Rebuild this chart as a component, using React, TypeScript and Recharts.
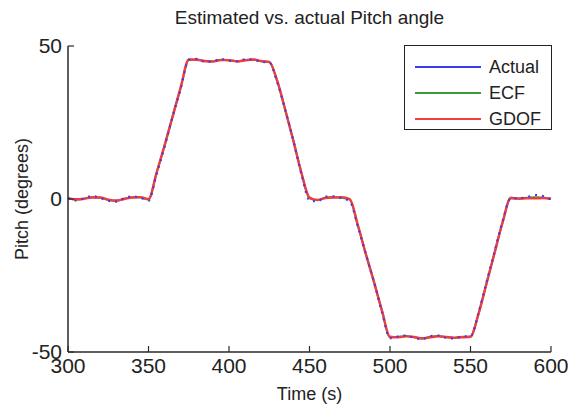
import React from 'react';
import { LineChart, Line, XAxis, YAxis } from 'recharts';

const time = [300, 305, 310, 315, 320, 325, 330, 335, 340, 345, 350, 355, 360, 365, 370, 375, 380, 385, 390, 395, 400, 405, 410, 415, 420, 425, 430, 435, 440, 445, 450, 455, 460, 465, 470, 475, 480, 485, 490, 495, 500, 505, 510, 515, 520, 525, 530, 535, 540, 545, 550, 555, 560, 565, 570, 575, 580, 585, 590, 595, 600];
const actual = [0.3, -0.5, 0.2, 1.0, 0.3, -0.6, -0.9, 0.3, 0.9, 0.4, -0.6, 8, 17, 27, 36, 45.5, 45.8, 44.8, 45.0, 45.8, 45.2, 44.9, 45.7, 45.6, 44.8, 44.6, 38, 29, 19, 8, -0.5, -0.8, 0.8, 0.9, 0.2, -0.8, -9, -18, -27, -37, -45.5, -44.9, -44.6, -45.4, -45.8, -44.8, -44.6, -45.4, -45.6, -44.8, -44.9, -37, -27, -17, -7, 0.2, 0.3, 0.6, 1.3, 1.0, -0.2];
const ecf = [0.2, -0.2, 0.1, 0.6, 0.4, -0.3, -0.6, 0.1, 0.6, 0.5, -0.2, 8.5, 17.5, 27, 36.5, 45.4, 45.6, 45.0, 45.0, 45.5, 45.3, 45.0, 45.4, 45.5, 45.0, 44.8, 38.5, 29, 19, 8.5, 0.2, -0.4, 0.5, 0.6, 0.4, -0.2, -8.5, -18, -27, -36.5, -45.2, -45.0, -44.8, -45.2, -45.5, -45.0, -44.8, -45.2, -45.4, -45.0, -45.0, -37.5, -27.5, -17.5, -7.5, 0.2, 0.2, 0.4, 0.6, 0.5, 0.0];
const gdof = [0.3, -0.1, 0.1, 0.5, 0.5, -0.2, -0.5, 0.0, 0.5, 0.6, 0.0, 8.5, 17.5, 27, 36.5, 45.6, 45.5, 45.1, 44.9, 45.4, 45.4, 45.0, 45.3, 45.6, 45.1, 44.8, 38.5, 29, 19, 8.5, 0.5, -0.3, 0.3, 0.5, 0.6, 0.0, -8.5, -18, -27, -36.5, -45.0, -45.2, -44.9, -45.1, -45.6, -45.2, -44.9, -45.1, -45.3, -45.2, -45.0, -37.5, -27.5, -17.5, -7.5, 0.4, 0.1, 0.2, 0.2, 0.3, 0.1];

const xTicks = [300, 350, 400, 450, 500, 550, 600];
const yTicks = [-50, 0, 50];

const seriesInfo = [
  { key: 'actual', name: 'Actual', color: '#3b3bf5' },
  { key: 'ecf', name: 'ECF', color: '#3d9a3d' },
  { key: 'gdof', name: 'GDOF', color: '#f53b3b' },
];

const data = time.map((t, i) => ({ t, actual: actual[i], ecf: ecf[i], gdof: gdof[i] }));

const FONT = '"Liberation Sans", Arial, sans-serif';
const AXIS = '#2a2a2a';
const TICK_LEN = 6;

// MATLAB style: ticks point into the plot box
const BottomTick = (props: any) => {
  const { x, y, payload } = props;
  const axisY = y - 4;
  return (
    <g>
      <line x1={x} x2={x} y1={axisY} y2={axisY - TICK_LEN} stroke={AXIS} strokeWidth={1.2} />
      <text x={x} y={y} dy="0.8em" textAnchor="middle" fill="#222" fontSize={21} fontFamily={FONT}>
        {payload.value}
      </text>
    </g>
  );
};

const LeftTick = (props: any) => {
  const { x, y, payload } = props;
  const axisX = x + 6;
  return (
    <g>
      <line x1={axisX} x2={axisX + TICK_LEN} y1={y} y2={y} stroke={AXIS} strokeWidth={1.2} />
      <text x={x} y={y} dy="0.35em" textAnchor="end" fill="#222" fontSize={21} fontFamily={FONT}>
        {payload.value}
      </text>
    </g>
  );
};

const TopTick = (props: any) => {
  const { x, y } = props;
  return <line x1={x} x2={x} y1={y} y2={y + TICK_LEN} stroke={AXIS} strokeWidth={1.2} />;
};

const RightTick = (props: any) => {
  const { x, y } = props;
  return <line x1={x} x2={x - TICK_LEN} y1={y} y2={y} stroke={AXIS} strokeWidth={1.2} />;
};

export default function App() {
  return (
    <div style={{ position: 'absolute', left: 0, top: 0, width: 568, height: 405, background: '#fff' }}>
      <div
        style={{
          position: 'absolute',
          left: 68,
          width: 483,
          top: 7,
          textAlign: 'center',
          fontFamily: FONT,
          fontSize: 19,
          color: '#222',
        }}
      >
        Estimated vs. actual Pitch angle
      </div>
      <LineChart width={568} height={405} data={data} margin={{ top: 46, right: 17, bottom: 0, left: 0 }}>
        <XAxis
          dataKey="t"
          type="number"
          domain={[300, 600]}
          ticks={xTicks}
          height={53}
          tickSize={0}
          tickMargin={4}
          tick={<BottomTick />}
          axisLine={{ stroke: AXIS, strokeWidth: 1.5 }}
          label={{ value: 'Time (s)', position: 'insideBottom', offset: 5, fill: '#222', fontSize: 18, fontFamily: FONT }}
        />
        <XAxis
          xAxisId="top"
          orientation="top"
          dataKey="t"
          type="number"
          domain={[300, 600]}
          ticks={xTicks}
          height={0}
          tickSize={0}
          tickMargin={0}
          tick={<TopTick />}
          axisLine={{ stroke: AXIS, strokeWidth: 1.5 }}
        />
        <YAxis
          type="number"
          domain={[-50, 50]}
          ticks={yTicks}
          width={68}
          tickSize={0}
          tickMargin={6}
          tick={<LeftTick />}
          axisLine={{ stroke: AXIS, strokeWidth: 1.5 }}
          label={{
            value: 'Pitch (degrees)',
            angle: -90,
            position: 'insideLeft',
            offset: 22,
            fill: '#222',
            fontSize: 18,
            fontFamily: FONT,
            style: { textAnchor: 'middle' },
          }}
        />
        <YAxis
          yAxisId="right"
          orientation="right"
          type="number"
          domain={[-50, 50]}
          ticks={yTicks}
          width={0}
          tickSize={0}
          tickMargin={0}
          tick={<RightTick />}
          axisLine={{ stroke: AXIS, strokeWidth: 1.5 }}
        />
        <Line type="monotone" dataKey="ecf" name="ECF" stroke="#3d9a3d" strokeWidth={2} dot={false} isAnimationActive={false} />
        <Line type="monotone" dataKey="gdof" name="GDOF" stroke="#f53b3b" strokeWidth={2.4} dot={false} isAnimationActive={false} />
        <Line
          type="monotone"
          dataKey="actual"
          name="Actual"
          stroke="#3b3bf5"
          strokeWidth={2}
          strokeDasharray="2 5"
          dot={false}
          isAnimationActive={false}
        />
      </LineChart>
      <div
        style={{
          position: 'absolute',
          left: 404,
          top: 45,
          width: 148,
          height: 85,
          border: '1.5px solid #222',
          background: '#fff',
          boxSizing: 'border-box',
          padding: '8px 0 0 10px',
          fontFamily: FONT,
          fontSize: 18,
          color: '#222',
        }}
      >
        {seriesInfo.map((s) => (
          <div key={s.key} style={{ display: 'flex', alignItems: 'center', height: 26 }}>
            <svg width={66} height={4} style={{ marginRight: 8 }}>
              <line x1={0} x2={66} y1={2} y2={2} stroke={s.color} strokeWidth={2} />
            </svg>
            <span>{s.name}</span>
          </div>
        ))}
      </div>
    </div>
  );
}
